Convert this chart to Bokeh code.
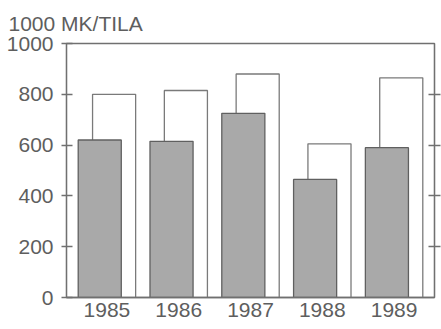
from bokeh.plotting import figure
from bokeh.models import LinearAxis, FixedTicker, Range1d
from bokeh.embed import file_html
from bokeh.resources import INLINE

years = ["1985", "1986", "1987", "1988", "1989"]
gray_values = [620, 615, 725, 465, 590]
white_values = [800, 815, 880, 605, 865]
y_ticks = [0, 200, 400, 600, 800, 1000]
unit_label = "1000 MK/TILA"

FONT = "Liberation Sans"
FS = "21px"
TXT = "#5e5e5e"
AX = "#707070"

idx = list(range(len(years)))
gx = [i - 0.1 for i in idx]
wx = [i + 0.1 for i in idx]

p = figure(width=441, height=329, output_backend="svg", toolbar_location=None,
           x_range=Range1d(-0.563, 4.563), y_range=Range1d(0, 1000),
           min_border_left=66, min_border_right=7, min_border_top=42, min_border_bottom=32)

p.title.text = unit_label
p.title.align = "left"
p.title.offset = -58
p.title.text_font = FONT
p.title.text_font_size = FS
p.title.text_font_style = "normal"
p.title.text_color = TXT
p.title.standoff = 18

p.vbar(x=wx, top=white_values, width=0.6, fill_color="white",
       line_color="#7a7a7a", line_width=1.3)
p.vbar(x=gx, top=gray_values, width=0.6, fill_color="#a9a9a9",
       line_color="#606060", line_width=1.3)

p.grid.visible = False
p.outline_line_color = AX
p.outline_line_width = 1.3
p.background_fill_color = "white"
p.border_fill_color = "white"

ya = p.yaxis[0]
ya.ticker = FixedTicker(ticks=y_ticks)
ya.major_tick_in = 6
ya.major_tick_out = 5
ya.minor_tick_line_color = None
ya.axis_line_color = AX
ya.axis_line_width = 1.3
ya.major_tick_line_color = AX
ya.major_tick_line_width = 1.3
ya.major_label_text_font = FONT
ya.major_label_text_font_size = FS
ya.major_label_text_color = TXT
ya.major_label_standoff = 8

xa = p.xaxis[0]
xa.ticker = FixedTicker(ticks=idx)
xa.major_label_overrides = {i: y for i, y in zip(idx, years)}
xa.major_tick_in = 0
xa.major_tick_out = 0
xa.minor_tick_line_color = None
xa.axis_line_color = AX
xa.axis_line_width = 1.3
xa.major_label_text_font = FONT
xa.major_label_text_font_size = FS
xa.major_label_text_color = TXT
xa.major_label_standoff = 5

ra = LinearAxis(ticker=FixedTicker(ticks=y_ticks[1:-1]))
ra.major_tick_in = 6
ra.major_tick_out = 6
ra.minor_tick_line_color = None
ra.axis_line_color = AX
ra.axis_line_width = 1.3
ra.major_tick_line_color = AX
ra.major_tick_line_width = 1.3
ra.major_label_text_color = None
ra.major_label_text_font_size = "1px"
ra.major_label_standoff = 0
p.add_layout(ra, "right")

open("out.html", "w").write(file_html(p, INLINE))
